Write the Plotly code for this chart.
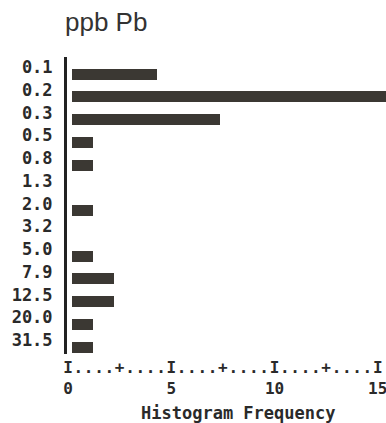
import plotly.graph_objects as go

categories = ["0.1", "0.2", "0.3", "0.5", "0.8", "1.3", "2.0", "3.2", "5.0", "7.9", "12.5", "20.0", "31.5"]
frequency = [4, 16, 7, 1, 1, 0, 1, 0, 1, 2, 2, 1, 1]
title_text = "ppb Pb"
x_title = "Histogram Frequency"

# ruler ticks every 0.5 unit: I at majors, + at midpoints, . elsewhere
ruler_vals = [i * 0.5 for i in range(31)]
ruler_text = []
for v in ruler_vals:
    if v % 5 == 0:
        ruler_text.append("I<br>" + str(int(v)))
    elif v % 2.5 == 0:
        ruler_text.append("+")
    else:
        ruler_text.append(".")

mono = "DejaVu Sans Mono"
ink = "#2a2a2a"

fig = go.Figure()
fig.add_trace(go.Bar(
    x=frequency, y=categories, orientation="h",
    marker=dict(color="#3b3833", line=dict(width=0)),
    width=0.48, xaxis="x", yaxis="y", showlegend=False,
))
# invisible trace to activate the ruler axis
fig.add_trace(go.Scatter(x=[0], y=[categories[0]], mode="markers",
                         marker=dict(opacity=0), xaxis="x2", yaxis="y",
                         showlegend=False, hoverinfo="skip"))

fig.update_layout(
    width=386, height=423,
    margin=dict(l=67, r=0, t=57, b=69),
    paper_bgcolor="white", plot_bgcolor="white",
    bargap=0,
    title=dict(text=title_text, x=65 / 386, xanchor="left", xref="container",
               y=1 - 22 / 423, yanchor="middle", yref="container",
               font=dict(family="Liberation Sans", size=26, color="#333333")),
    xaxis=dict(range=[-0.236, 14.81], showticklabels=False, showgrid=False,
               zeroline=False, showline=False, ticks=""),
    xaxis2=dict(range=[-0.05, 15.4], overlaying="x", side="bottom",
                tickmode="array", tickvals=ruler_vals, ticktext=ruler_text,
                tickangle=0, ticklabeloverflow="allow",
                tickfont=dict(family=mono, size=16, color=ink, weight="bold"),
                showgrid=False, zeroline=False, showline=False, ticks="",
                ticklabelstandoff=2),
    yaxis=dict(type="category", categoryorder="array", categoryarray=categories,
               range=[12.3, -0.75], showgrid=False, zeroline=False,
               showline=True, linewidth=3, linecolor="#222222",
               ticks="", ticklabelstandoff=8, ticklabelshift=7,
               tickfont=dict(family=mono, size=17, color=ink, weight="bold")),
    annotations=[dict(text=x_title, xref="paper", yref="paper",
                      x=(238 - 67) / 319, y=(354 - 413) / 297,
                      xanchor="center", yanchor="middle", showarrow=False,
                      font=dict(family=mono, size=17, color=ink, weight="bold"))],
)

fig.write_html("out.html")
